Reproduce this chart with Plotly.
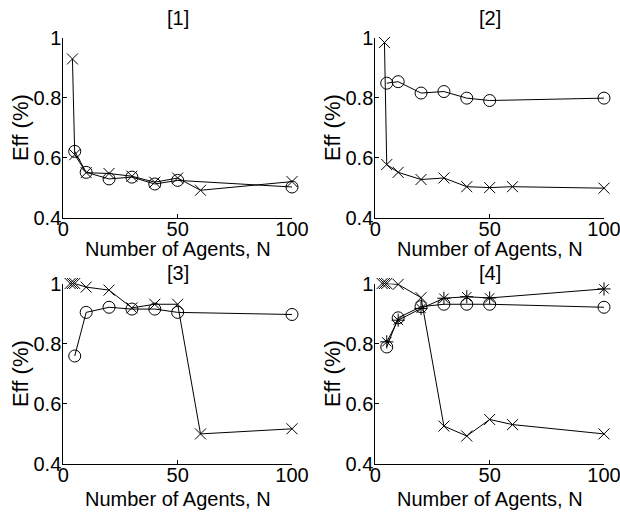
import plotly.graph_objects as go
from plotly.subplots import make_subplots

# Agent counts for each series
x_cross_a = [4, 5, 10, 20, 30, 40, 50, 60, 100]
x_cross_b = [3, 4, 5, 10, 20, 30, 40, 50, 60, 100]
x_circle = [5, 10, 20, 30, 40, 50, 100]
x_star = [5, 10, 20, 30, 40, 50, 100]

# Efficiency values per panel
p1_cross = [0.93, 0.61, 0.55, 0.547, 0.538, 0.518, 0.532, 0.491, 0.52]
p1_circle = [0.621, 0.551, 0.529, 0.535, 0.512, 0.524, 0.502]

p2_cross = [0.985, 0.577, 0.551, 0.527, 0.532, 0.503, 0.50, 0.503, 0.498]
p2_circle = [0.849, 0.854, 0.816, 0.821, 0.799, 0.791, 0.799]

p3_cross = [1.0, 1.0, 1.0, 0.988, 0.978, 0.919, 0.931, 0.931, 0.50, 0.517]
p3_circle = [0.759, 0.904, 0.921, 0.915, 0.915, 0.904, 0.897]

p4_cross = [1.0, 1.0, 1.0, 0.997, 0.953, 0.526, 0.493, 0.548, 0.531, 0.50]
p4_circle = [0.789, 0.886, 0.923, 0.931, 0.931, 0.931, 0.921]
p4_star = [0.806, 0.878, 0.917, 0.951, 0.956, 0.952, 0.982]

panel_titles = ["[1]", "[2]", "[3]", "[4]"]
x_label = "Number of Agents, N"
y_label = "Eff (%)"
x_ticks = [0, 50, 100]
y_ticks = [0.4, 0.6, 0.8, 1.0]
y_tick_text = ["0.4", "0.6", "0.8", "1"]

W, H = 620, 512
FONT = "Liberation Sans, Arial, sans-serif"

fig = make_subplots(rows=2, cols=2)


def series(x, y, symbol, size, row, col):
    fig.add_trace(
        go.Scatter(
            x=x, y=y, mode="lines+markers",
            line=dict(color="black", width=1),
            marker=dict(symbol=symbol, size=size, color="black",
                        line=dict(color="black", width=1)),
            cliponaxis=False, showlegend=False,
        ),
        row=row, col=col,
    )


series(x_cross_a, p1_cross, "x-thin-open", 11, 1, 1)
series(x_circle, p1_circle, "circle-open", 12, 1, 1)
series(x_cross_a, p2_cross, "x-thin-open", 11, 1, 2)
series(x_circle, p2_circle, "circle-open", 12, 1, 2)
series(x_cross_b, p3_cross, "x-thin-open", 11, 2, 1)
series(x_circle, p3_circle, "circle-open", 12, 2, 1)
series(x_cross_b, p4_cross, "x-thin-open", 11, 2, 2)
series(x_circle, p4_circle, "circle-open", 12, 2, 2)
series(x_star, p4_star, "asterisk-open", 11, 2, 2)

# Pixel boxes of the four axes (left, right, top, bottom)
boxes = [
    (63.3, 292.0, 38.0, 217.5),
    (375.3, 604.0, 38.0, 217.5),
    (63.3, 292.0, 283.5, 464.0),
    (375.3, 604.0, 283.5, 464.0),
]
title_rows = [18.0, 18.0, 272.5, 272.5]
xlabel_rows = [249.0, 249.0, 498.5, 498.5]

axis_common = dict(
    showline=True, linecolor="black", linewidth=1, mirror=False,
    ticks="inside", ticklen=4, tickcolor="black", tickwidth=1,
    showgrid=False, zeroline=False, automargin=False,
    ticklabeloverflow="allow",
    tickfont=dict(family=FONT, size=20, color="black"),
)


def text_ann(text, px, py, size, angle=0):
    return dict(
        text=text, x=px / W, y=1 - py / H,
        xref="paper", yref="paper", xanchor="center", yanchor="middle",
        showarrow=False, textangle=angle,
        font=dict(family=FONT, size=size, color="black"),
    )


annotations = []
for i, (l, r, t, b) in enumerate(boxes):
    suffix = "" if i == 0 else str(i + 1)
    fig.layout["xaxis" + suffix].update(
        domain=[l / W, r / W], range=[0, 100],
        tickvals=x_ticks, ticktext=[str(v) for v in x_ticks],
        ticklabelstandoff=-7,
        **axis_common,
    )
    fig.layout["yaxis" + suffix].update(
        domain=[1 - b / H, 1 - t / H], range=[0.4, 1.0],
        tickvals=y_ticks, ticktext=y_tick_text,
        ticklabelstandoff=-3,
        **axis_common,
    )
    annotations.append(text_ann(panel_titles[i], (l + r) / 2, title_rows[i], 20))
    annotations.append(text_ann(x_label, (l + r) / 2, xlabel_rows[i], 20))
    annotations.append(text_ann(y_label, l - 43, (t + b) / 2, 22, -90))

fig.update_layout(
    width=W, height=H,
    margin=dict(l=0, r=0, t=0, b=0, autoexpand=False),
    paper_bgcolor="white", plot_bgcolor="white",
    annotations=annotations,
)

fig.write_html("out.html")
